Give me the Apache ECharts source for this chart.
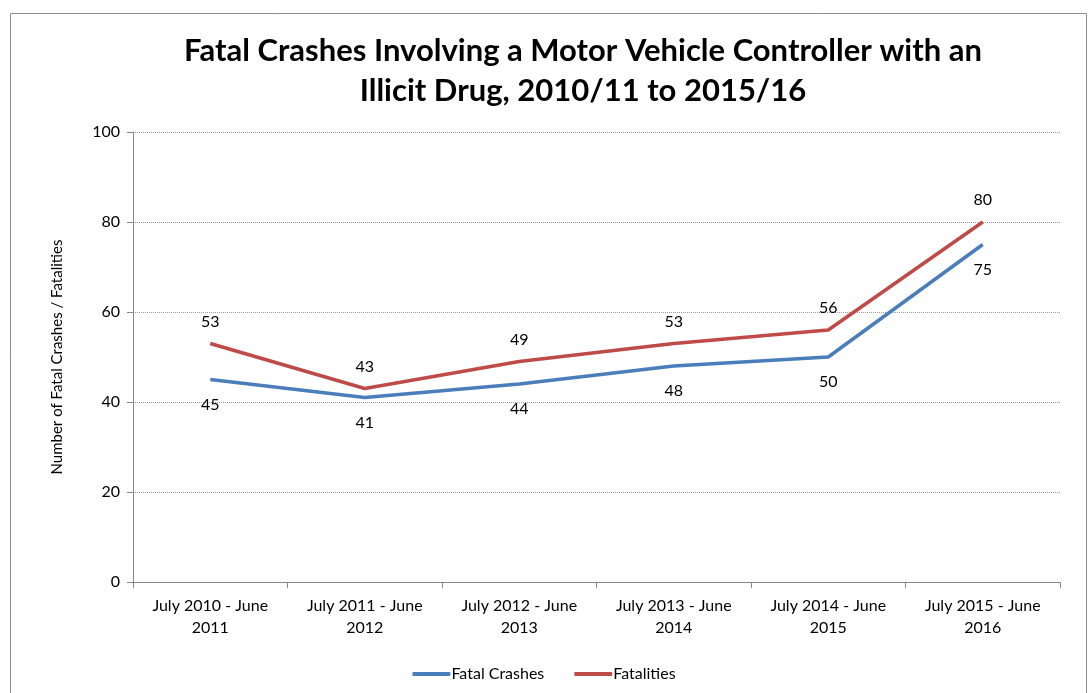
<!DOCTYPE html>
<html>
<head>
<meta charset="utf-8">
<script src="https://cdn.jsdelivr.net/npm/echarts@6/dist/echarts.min.js"></script>
<style>
  body { margin: 0; background: #fff; }
  #main { width: 1088px; height: 693px; }
</style>
</head>
<body>
<div id="main"></div>
<script>
// chart data
var periods = ['July 2010 - June\n2011', 'July 2011 - June\n2012', 'July 2012 - June\n2013',
  'July 2013 - June\n2014', 'July 2014 - June\n2015', 'July 2015 - June\n2016']
var fatalCrashes = [45, 41, 44, 48, 50, 75]
var fatalities = [53, 43, 49, 53, 56, 80]

var font = 'Lato, "Open Sans", sans-serif'
var chart = echarts.init(document.getElementById('main'))
var option = {
  animation: false,
  textStyle: { fontFamily: font },
  title: {
    text: 'Fatal Crashes Involving a Motor Vehicle Controller with an\nIllicit Drug, 2010/11 to 2015/16',
    left: 578,
    textAlign: 'center',
    top: 26,
    textStyle: { fontFamily: font, fontSize: 31, fontWeight: 'bold', color: '#000', lineHeight: 40 }
  },
  graphic: [{
    type: 'rect',
    shape: { x: 10.5, y: 13.5, width: 1076, height: 700 },
    style: { fill: 'none', stroke: '#8c8c8c', lineWidth: 1 }
  }],
  legend: {
    bottom: 6,
    left: 'center',
    itemWidth: 38,
    itemHeight: 4,
    itemGap: 30,
    icon: 'roundRect',
    textStyle: { fontFamily: font, fontSize: 16, color: '#000', padding: [0, 0, 0, -4] },
    data: ['Fatal Crashes', 'Fatalities']
  },
  grid: { left: 133, right: 28, top: 132, bottom: 111 },
  xAxis: {
    type: 'category',
    data: periods,
    boundaryGap: true,
    axisLine: { lineStyle: { color: '#868686' } },
    axisTick: { show: true, length: 6, lineStyle: { color: '#868686' } },
    axisLabel: { color: '#000', fontSize: 16, lineHeight: 22, margin: 13, interval: 0 }
  },
  yAxis: {
    type: 'value',
    min: 0,
    max: 100,
    interval: 20,
    name: 'Number of Fatal Crashes / Fatalities',
    nameLocation: 'middle',
    nameGap: 68,
    nameTextStyle: { fontFamily: font, fontSize: 15, color: '#000' },
    axisLine: { show: true, lineStyle: { color: '#868686' } },
    axisTick: { show: true, length: 6, lineStyle: { color: '#868686' } },
    axisLabel: { color: '#000', fontSize: 16, margin: 13 },
    splitLine: { lineStyle: { color: '#999', type: [1, 1], width: 1 } }
  },
  series: [
    {
      name: 'Fatal Crashes',
      type: 'line',
      data: fatalCrashes,
      symbol: 'circle',
      symbolSize: 0,
      lineStyle: { color: '#4a7ebb', width: 3.5 },
      itemStyle: { color: '#4a7ebb' },
      label: { show: true, position: 'bottom', distance: 17, color: '#000', fontSize: 16, fontFamily: font }
    },
    {
      name: 'Fatalities',
      type: 'line',
      data: fatalities,
      symbol: 'circle',
      symbolSize: 0,
      lineStyle: { color: '#be4b48', width: 3.5 },
      itemStyle: { color: '#be4b48' },
      label: { show: true, position: 'top', distance: 14, color: '#000', fontSize: 16, fontFamily: font }
    }
  ]
}
chart.setOption(option)
</script>
</body>
</html>
